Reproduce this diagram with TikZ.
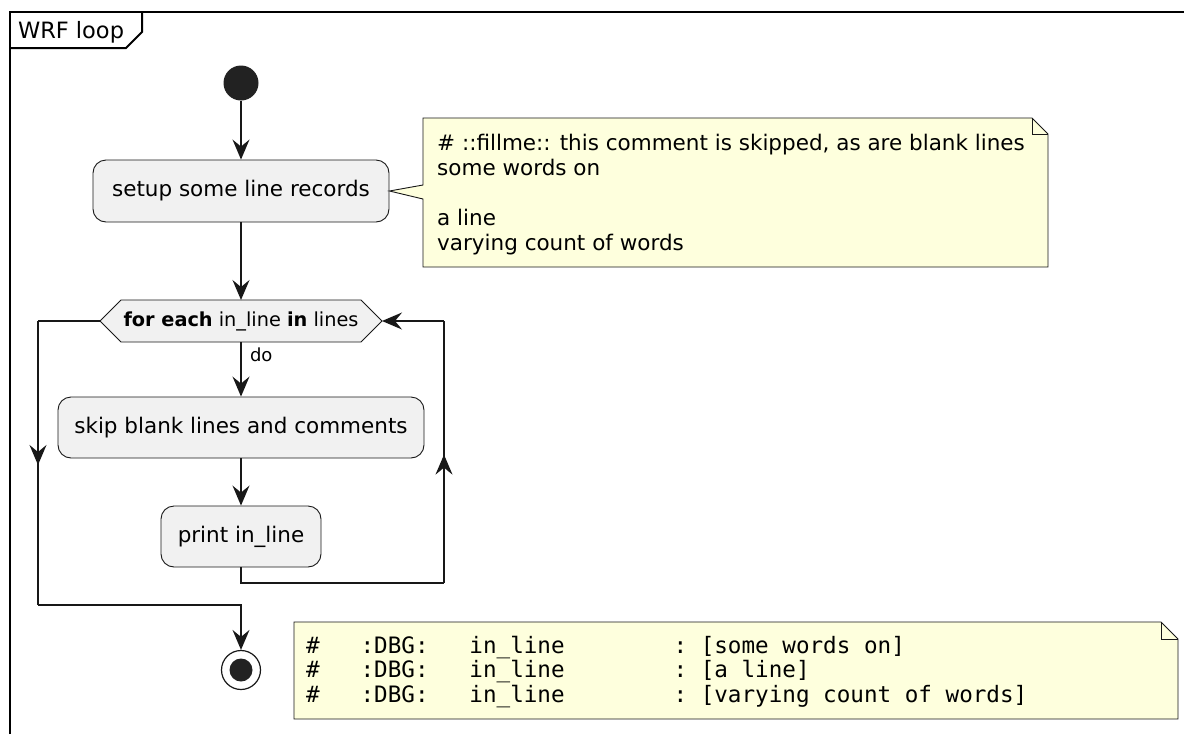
\documentclass[tikz,border=0pt]{standalone}
\usepackage{fontspec}
\setmainfont{DejaVu Sans}
\setmonofont{DejaVu Sans Mono}
\usetikzlibrary{arrows.meta,decorations.markings,calc}

\definecolor{ink}{HTML}{181818}
\definecolor{boxfill}{HTML}{F1F1F1}
\definecolor{notefill}{HTML}{FEFFDD}
\definecolor{dot}{HTML}{222222}

\tikzset{
  >={Stealth[length=20pt,width=17pt,inset=7pt]},
  line/.style={draw=ink, line width=1.4pt},
  flow/.style={line, ->},
  midmark/.style={postaction={decorate}, decoration={markings,
      mark=at position #1 with {\arrow{Stealth[length=20pt,width=17pt,inset=7pt]}}}},
  actbox/.style={draw=ink, fill=boxfill, line width=0.9pt, rounded corners=13pt,
      inner sep=0pt, font=\fontsize{21.5}{25}\selectfont},
  note/.style={draw=ink, fill=notefill, line width=0.9pt},
  notetext/.style={inner sep=0pt, align=left, anchor=base west},
  holder/.style={inner sep=0pt, outer sep=0pt},
}

\begin{document}
\begin{tikzpicture}[x=1pt, y=-1pt]
\useasboundingbox (0,0) rectangle (1184,734);

% frame with its title tab
\draw[black, line width=2pt] (10,734) -- (10,12) -- (1184,12);
\draw[black, line width=2pt] (10,48) -- (126,48) -- (142,32) -- (142,12);
\node[holder, anchor=base west, font=\fontsize{22.5}{26}\selectfont] (title) at (18,38.3) {WRF loop};

% start and actions
\node[circle, fill=dot, inner sep=0pt, minimum size=35pt] (start) at (241,83) {};
\node[actbox, minimum width=296pt, minimum height=62pt] (setup) at (241,191) {setup some line records};

% loop header
\node[holder, minimum width=282pt, minimum height=42pt] (loop) at (241,321) {};
\filldraw[draw=ink, fill=boxfill, line width=0.9pt]
  (loop.west) -- ([xshift=21pt]loop.north west) -- ([xshift=-21pt]loop.north east)
  -- (loop.east) -- ([xshift=-21pt]loop.south east) -- ([xshift=21pt]loop.south west) -- cycle;
\node[holder, font=\fontsize{19.3}{23}\selectfont] (looptext) at (loop.center)
  {\textbf{for each} in\_line \textbf{in} lines};

\node[actbox, minimum width=366pt, minimum height=61pt] (skip) at (241,427.5) {skip blank lines and comments};
\node[actbox, minimum width=160pt, minimum height=61pt] (print) at (241,536.5) {print in\_line};

% stop
\node[circle, draw=ink, fill=white, line width=1.2pt, inner sep=0pt, minimum size=39pt] (stop) at (241,670) {};
\fill[dot] (stop.center) circle (11.5pt);

% connectors
\draw[flow] (start) -- (setup.north);
\draw[flow] (setup.south) -- (loop.north);
\draw[flow] (loop.south) -- (skip.north);
\node[holder, anchor=base west, font=\fontsize{18}{22}\selectfont] (dolabel) at (250,361) {do};
\draw[flow] (skip.south) -- (print.north);

% back edge to the loop header
\coordinate (rb) at (444,583);
\coordinate (rt) at (444,321);
\draw[line] (print.south) |- (rb);
\draw[line, midmark=0.49] (rb) -- (rt);
\draw[flow] (rt) -- (loop.east);

% exit edge
\coordinate (lt) at (38,321);
\coordinate (lb) at (38,605);
\coordinate (mb) at (241,605);
\draw[line] (loop.west) -- (lt);
\draw[line, midmark=0.507] (lt) -- (lb);
\draw[flow] (lb) -- (mb) -- (stop.north);

% note attached to the setup action
\node[holder, minimum width=625pt, minimum height=149pt] (n1) at (735.5,192.5) {};
\draw[note]
  (n1.north west) -- ([xshift=-16pt]n1.north east) -- ([yshift=-16pt]n1.north east)
  -- (n1.south east) -- (n1.south west) -- ([yshift=-6.5pt]n1.west)
  -- (setup.east) -- ([yshift=7.5pt]n1.west) -- cycle;
\draw[note, fill=none] ([xshift=-16pt]n1.north east) -- ([xshift=-16pt,yshift=-16pt]n1.north east)
  -- ([yshift=-16pt]n1.north east);
% the base anchor of a multi-line node sits on its last line
\node[notetext, font=\fontsize{21.5}{25}\selectfont] (n1text) at (437,250)
  {\# ::fillme:: this comment is skipped, as are blank lines\\
   some words on\\[25pt]
   a line\\
   varying count of words};

% debug output note
\node[holder, minimum width=884pt, minimum height=97pt] (n2) at (736,670.5) {};
\draw[note]
  (n2.north west) -- ([xshift=-17pt]n2.north east) -- ([yshift=-17pt]n2.north east)
  -- (n2.south east) -- (n2.south west) -- cycle;
\draw[note, fill=none] ([xshift=-17pt]n2.north east) -- ([xshift=-17pt,yshift=-17pt]n2.north east)
  -- ([yshift=-17pt]n2.north east);
\node[notetext, font=\frenchspacing\ttfamily\fontsize{22.6}{24.5}\selectfont] (n2text) at (306,702)
  {\#\ \ \ :DBG:\ \ \ in\_line\ \ \ \ \ \ \ \ :\ [some words on]\\
   \#\ \ \ :DBG:\ \ \ in\_line\ \ \ \ \ \ \ \ :\ [a line]\\
   \#\ \ \ :DBG:\ \ \ in\_line\ \ \ \ \ \ \ \ :\ [varying count of words]};
\end{tikzpicture}
\end{document}
